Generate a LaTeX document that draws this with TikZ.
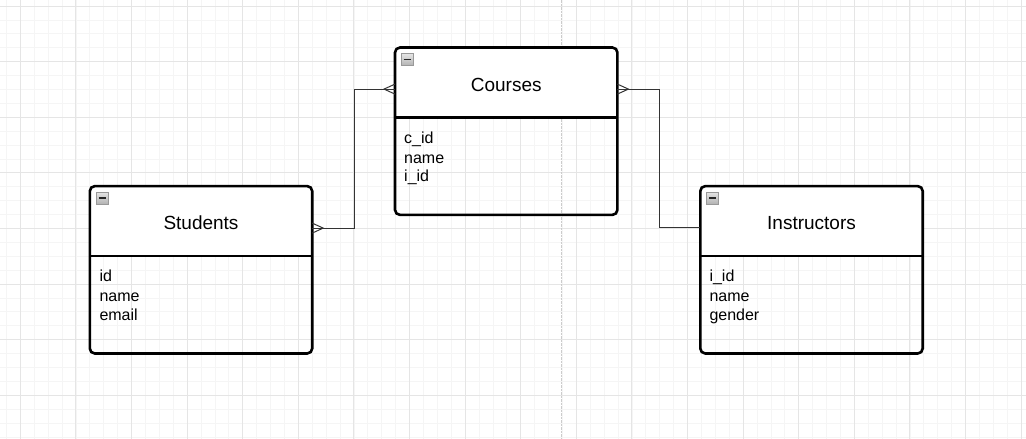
\documentclass[tikz,border=0pt]{standalone}
\usepackage{fontspec}
\setmainfont{Liberation Sans}
\begin{document}
\begin{tikzpicture}[x=1pt,y=-1pt,
  minorgrid/.style={draw=black!4,line width=0.8pt},
  majorgrid/.style={draw=black!10,line width=0.9pt},
  pagebreak/.style={draw=black!20,line width=1pt,dash pattern=on 2.5pt off 1pt},
  entbox/.style={rectangle,inner sep=0pt,minimum width=222pt,minimum height=167pt},
  boxline/.style={draw=black,line width=2.6pt,rounded corners=5pt},
  sepline/.style={draw=black,line width=2.6pt},
  enttitle/.style={inner sep=0pt,font=\fontsize{19}{23}\selectfont},
  attr/.style={inner sep=0pt,font=\fontsize{16}{19}\selectfont},
  conn/.style={draw=black!80,line width=1pt},
  minusicon/.pic={
    \shade[top color=black!10,bottom color=black!30,draw=black!40,line width=0.8pt]
      (0,0) rectangle (12,12);
    \draw[black!85,line width=1.6pt] (2.5,6) -- (9.5,6);
  }]
\useasboundingbox (0,0) rectangle (1026,439);
\fill[white] (0,0) rectangle (1026,439);

% background grid
\foreach \i in {0,...,73}
  \draw[minorgrid] ({6.4+13.9*\i},0) -- ({6.4+13.9*\i},439);
\foreach \j in {0,...,31}
  \draw[minorgrid] (0,{6+13.9*\j}) -- (1026,{6+13.9*\j});
\foreach \i in {0,...,18}
  \draw[majorgrid] ({20.3+55.6*\i},0) -- ({20.3+55.6*\i},439);
\foreach \j in {0,...,7}
  \draw[majorgrid] (0,{6+55.6*\j}) -- (1026,{6+55.6*\j});
\draw[pagebreak] (561.7,0) -- (561.7,439);

% entity frames
\node[entbox] (cou) at (506.2,131.2) {};
\node[entbox] (stu) at (201,269.8) {};
\node[entbox] (ins) at (811.5,269.8) {};

\foreach \e in {cou,stu,ins} {
  % white header, body left see-through
  \fill[white] ([yshift=-69.8pt]\e.north west) [rounded corners=5pt] -- (\e.north west)
    -- (\e.north east) [sharp corners] -- ([yshift=-69.8pt]\e.north east) -- cycle;
  \draw[boxline] (\e.south west) rectangle (\e.north east);
  \draw[sepline] ([yshift=-69.8pt]\e.north west) -- ([yshift=-69.8pt]\e.north east);
  \pic at ([xshift=6.2pt,yshift=-6pt]\e.north west) {minusicon};
}

\node[enttitle,anchor=base] (couT) at ([yshift=-44pt]cou.north) {Courses};
\node[enttitle,anchor=base] (stuT) at ([yshift=-43.7pt]stu.north) {Students};
\node[enttitle,anchor=base] (insT) at ([yshift=-43.7pt]ins.north) {Instructors};

\node[attr,anchor=base west] (couA) at ([xshift=9pt,yshift=-95.5pt]cou.north west) {c\_id};
\node[attr,anchor=base west] (couB) at ([xshift=9pt,yshift=-115.5pt]cou.north west) {name};
\node[attr,anchor=base west] (couC) at ([xshift=9pt,yshift=-134pt]cou.north west) {i\_id};

\node[attr,anchor=base west] (stuA) at ([xshift=9.5pt,yshift=-95.5pt]stu.north west) {id};
\node[attr,anchor=base west] (stuB) at ([xshift=9.5pt,yshift=-115.5pt]stu.north west) {name};
\node[attr,anchor=base west] (stuC) at ([xshift=9.5pt,yshift=-134pt]stu.north west) {email};

\node[attr,anchor=base west] (insA) at ([xshift=9pt,yshift=-95.5pt]ins.north west) {i\_id};
\node[attr,anchor=base west] (insB) at ([xshift=9pt,yshift=-115.5pt]ins.north west) {name};
\node[attr,anchor=base west] (insC) at ([xshift=9pt,yshift=-134pt]ins.north west) {gender};

% relationships
\draw[conn] ([yshift=-42pt]stu.north east) -- ++(42,0) |- ([yshift=-41.6pt]cou.north west);
\draw[conn] ([yshift=-41.6pt]cou.north east) -- ++(42,0) |- ([yshift=-41.6pt]ins.north west);

% crow's feet (many)
\draw[conn] ([yshift=-37pt]stu.north east) -- ([xshift=11pt,yshift=-42pt]stu.north east)
  -- ([yshift=-47pt]stu.north east);
\draw[conn] ([yshift=-36.6pt]cou.north west) -- ([xshift=-11pt,yshift=-41.6pt]cou.north west)
  -- ([yshift=-46.6pt]cou.north west);
\draw[conn] ([yshift=-36.6pt]cou.north east) -- ([xshift=11pt,yshift=-41.6pt]cou.north east)
  -- ([yshift=-46.6pt]cou.north east);
\end{tikzpicture}
\end{document}
